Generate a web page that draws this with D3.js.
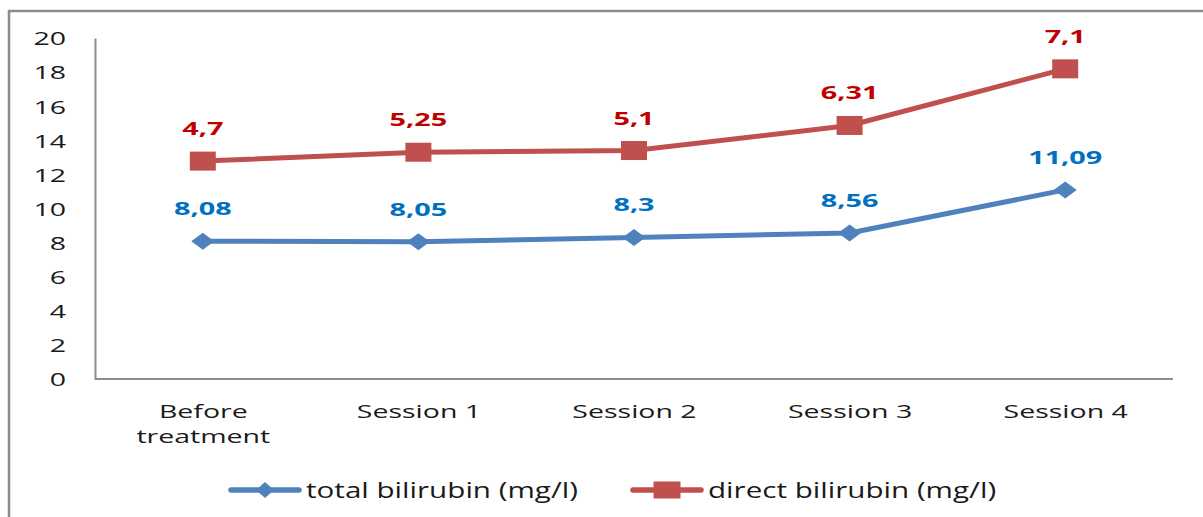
<!DOCTYPE html>
<html>
<head>
<meta charset="utf-8">
<script src="https://cdn.jsdelivr.net/npm/d3@7"></script>
<style>
  html, body { margin: 0; padding: 0; background: #fff; }
  svg { display: block; }
</style>
</head>
<body>
<svg id="chart" width="1203" height="517"></svg>
<script>
// Bilirubin levels across treatment sessions (stacked line chart)
const categories = ["Before\ntreatment", "Session 1", "Session 2", "Session 3", "Session 4"];
const totalBilirubin = [8.08, 8.05, 8.3, 8.56, 11.09];
const directBilirubin = [4.7, 5.25, 5.1, 6.31, 7.1];
const yTicks = [0, 2, 4, 6, 8, 10, 12, 14, 16, 18, 20];
const seriesNames = ["total bilirubin (mg/l)", "direct bilirubin (mg/l)"];

const lineColors = ["#4F81BD", "#C0504D"];
const labelColors = ["#0070C0", "#C00000"];
const axisGrey = "#8C8C8C";
const textScaleX = 1.5;

const svg = d3.select("#chart");
const W = 1203, H = 517;
const plot = { left: 95, right: 1173, top: 38, bottom: 379 };

// outer chart frame
svg.append("rect")
  .attr("x", 9).attr("y", 11)
  .attr("width", W).attr("height", H)
  .attr("fill", "none").attr("stroke", axisGrey).attr("stroke-width", 2.5);

const x = d3.scalePoint().domain(d3.range(categories.length))
  .range([plot.left, plot.right]).padding(0.5);
const y = d3.scaleLinear().domain([0, 20]).range([plot.bottom, plot.top]);

// stack the two series: direct bilirubin sits on top of total bilirubin
const rows = categories.map((c, i) => ({ i, total: totalBilirubin[i], direct: directBilirubin[i] }));
const stacked = d3.stack().keys(["total", "direct"])(rows);

// y axis
const yAxis = svg.append("g")
  .attr("transform", `translate(${plot.left},0)`)
  .call(d3.axisLeft(y).tickValues(yTicks).tickSize(0).tickSizeOuter(0).tickPadding(0));
yAxis.select(".domain").attr("stroke", axisGrey).attr("stroke-width", 2);
yAxis.selectAll(".tick text")
  .attr("x", 0).attr("dy", "0.36em")
  .attr("transform", `translate(-29,0) scale(${textScaleX},1)`)
  .attr("fill", "#1a1a1a")
  .style("font-family", "'Open Sans', sans-serif")
  .style("font-size", "19px");

// x axis
const xAxis = svg.append("g")
  .attr("transform", `translate(0,${plot.bottom})`)
  .call(d3.axisBottom(x).tickSize(0).tickSizeOuter(0).tickFormat(() => ""));
xAxis.select(".domain").attr("stroke", axisGrey).attr("stroke-width", 2)
  .attr("d", `M${plot.left},0H${plot.right}`);
xAxis.selectAll(".tick text").remove();
xAxis.selectAll(".tick").each(function (d) {
  const t = d3.select(this).append("text")
    .attr("text-anchor", "middle")
    .attr("transform", `translate(0,39) scale(${textScaleX},1)`)
    .attr("fill", "#1a1a1a")
    .style("font-family", "'Open Sans', sans-serif")
    .style("font-size", "19px");
  categories[d].split("\n").forEach((line, k) => {
    t.append("tspan").attr("x", 0).attr("y", k * 25.5).text(line);
  });
});

// lines
const line = d3.line().x(d => x(d.data.i)).y(d => y(d[1]));
stacked.forEach((s, si) => {
  svg.append("path")
    .datum(s)
    .attr("fill", "none")
    .attr("stroke", lineColors[si])
    .attr("stroke-width", 5)
    .attr("stroke-linejoin", "round")
    .attr("d", line);
});

// markers
const diamond = (cx, cy, hw, hh) => `M${cx - hw},${cy}L${cx},${cy - hh}L${cx + hw},${cy}L${cx},${cy + hh}Z`;
svg.append("g").selectAll("path")
  .data(stacked[0])
  .join("path")
  .attr("d", d => diamond(x(d.data.i), y(d[1]), 11.5, 8.5))
  .attr("fill", lineColors[0]);
svg.append("g").selectAll("rect")
  .data(stacked[1])
  .join("rect")
  .attr("x", d => x(d.data.i) - 13).attr("y", d => y(d[1]) - 9.5)
  .attr("width", 26).attr("height", 19)
  .attr("fill", lineColors[1]);

// value labels (decimal comma)
const fmt = v => String(v).replace(".", ",");
stacked.forEach((s, si) => {
  const key = si === 0 ? "total" : "direct";
  svg.append("g").selectAll("text")
    .data(s)
    .join("text")
    .attr("text-anchor", "middle")
    .attr("transform", d => `translate(${x(d.data.i)},${y(d[1]) - 26}) scale(1.6,1)`)
    .attr("fill", labelColors[si])
    .style("font-family", "'Open Sans', sans-serif")
    .style("font-weight", "700")
    .style("font-size", "18px")
    .text(d => fmt(d.data[key]));
});

// legend
const legend = svg.append("g").attr("transform", "translate(0,490)");
const legendItems = [
  { x0: 231, x1: 299, text: 306 },
  { x0: 633, x1: 701, text: 708 }
];
legendItems.forEach((it, i) => {
  const g = legend.append("g");
  g.append("line")
    .attr("x1", it.x0).attr("x2", it.x1).attr("y1", 0).attr("y2", 0)
    .attr("stroke", lineColors[i]).attr("stroke-width", 5.5).attr("stroke-linecap", "round");
  const cx = (it.x0 + it.x1) / 2;
  if (i === 0) {
    g.append("path").attr("d", diamond(cx, 0, 9, 8)).attr("fill", lineColors[i]);
  } else {
    g.append("rect").attr("x", cx - 13.5).attr("y", -8.5).attr("width", 27).attr("height", 17)
      .attr("fill", lineColors[i]);
  }
  g.append("text")
    .attr("transform", `translate(${it.text},0) scale(1.41,1)`)
    .attr("dy", "0.36em")
    .attr("fill", "#1a1a1a")
    .style("font-family", "'Open Sans', sans-serif")
    .style("font-size", "21px")
    .text(seriesNames[i]);
});
</script>
</body>
</html>
